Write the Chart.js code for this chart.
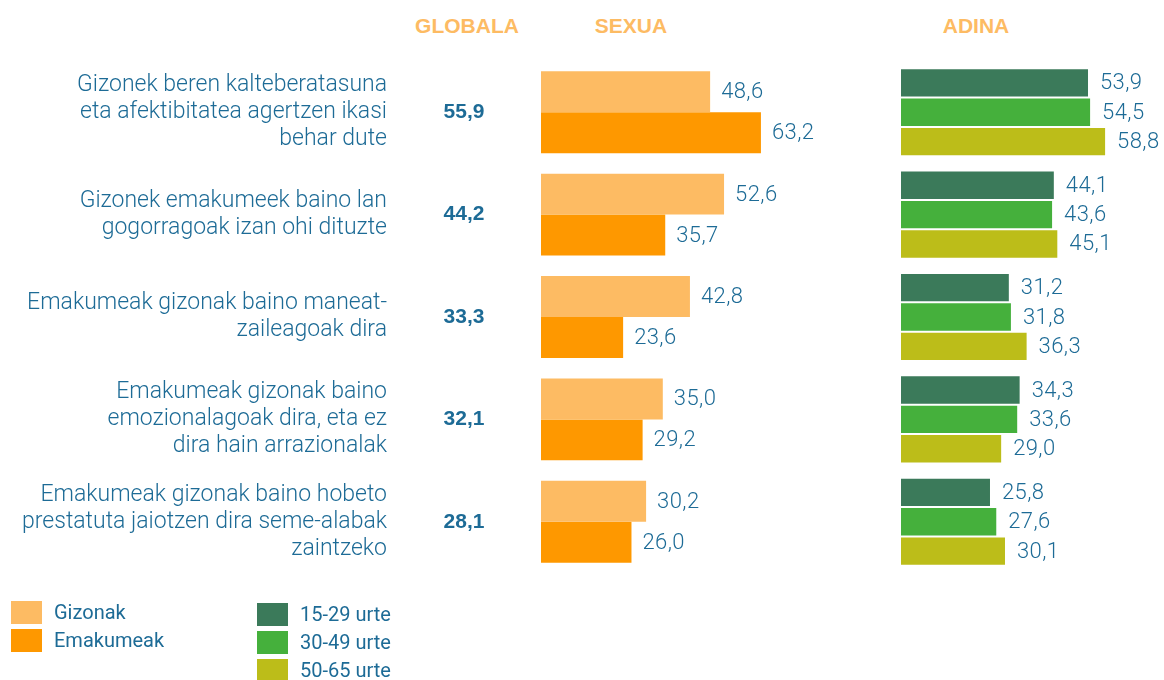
<!DOCTYPE html>
<html>
<head>
<meta charset="utf-8">
<script src="https://cdn.jsdelivr.net/npm/chart.js@4"></script>
<style>
  body { margin: 0; background: #fff; font-family: Roboto, sans-serif; }
  #wrap { position: relative; width: 1164px; height: 680px; overflow: hidden; }
  canvas { position: absolute; top: 0; }
  .head { position: absolute; top: 14px; font-family: "Liberation Sans", Arial, sans-serif; font-weight: 700; font-size: 21px; color: #fdbb63; transform: translateX(-50%); }
  .legend { position: absolute; font-size: 20px; color: #1d6b96; }
  .legend div { display: flex; align-items: center; height: 28px; }
  .legend span.sw { width: 31px; height: 23px; margin-right: 12px; }
</style>
</head>
<body>
<div id="wrap">
  <div class="head" style="left:467px">GLOBALA</div>
  <div class="head" style="left:631px">SEXUA</div>
  <div class="head" style="left:976px">ADINA</div>
  <canvas id="chartSexua" width="889" height="680" style="left:0"></canvas>
  <canvas id="chartAdina" width="274" height="680" style="left:890px"></canvas>
  <div class="legend" id="legendSexua" style="left:11px;top:598px"></div>
  <div class="legend" id="legendAdina" style="left:257px;top:600px"></div>
</div>
<script>
/* ── Data ───────────────────────────────────────────── */
const categories = [
  ['Gizonek beren kalteberatasuna', 'eta afektibitatea agertzen ikasi', 'behar dute'],
  ['Gizonek emakumeek baino lan', 'gogorragoak izan ohi dituzte'],
  ['Emakumeak gizonak baino maneat-', 'zaileagoak dira'],
  ['Emakumeak gizonak baino', 'emozionalagoak dira, eta ez', 'dira hain arrazionalak'],
  ['Emakumeak gizonak baino hobeto', 'prestatuta jaiotzen dira seme-alabak', 'zaintzeko']
];
const globala   = [55.9, 44.2, 33.3, 32.1, 28.1];
const gizonak   = [48.6, 52.6, 42.8, 35.0, 30.2];
const emakumeak = [63.2, 35.7, 23.6, 29.2, 26.0];
const age15_29  = [53.9, 44.1, 31.2, 34.3, 25.8];
const age30_49  = [54.5, 43.6, 31.8, 33.6, 27.6];
const age50_65  = [58.8, 45.1, 36.3, 29.0, 30.1];

const sexLabels = ['Gizonak', 'Emakumeak'];
const ageLabels = ['15-29 urte', '30-49 urte', '50-65 urte'];
const sexColors = ['#fdbb63', '#fe9800'];
const ageColors = ['#3b7a5a', '#45b03c', '#bcbd19'];

const TEXT = '#1d6b96';
const fmt = v => v.toFixed(1).replace('.', ',');

/* ── Plugins ───────────────────────────────────────── */
const valueLabels = {
  id: 'valueLabels',
  afterDatasetsDraw(chart) {
    const ctx = chart.ctx;
    ctx.save();
    ctx.font = '300 22px Roboto';
    ctx.letterSpacing = '0.4px';
    ctx.fillStyle = TEXT;
    ctx.textBaseline = 'middle';
    ctx.textAlign = 'left';
    chart.data.datasets.forEach((ds, di) => {
      chart.getDatasetMeta(di).data.forEach((bar, i) => {
        ctx.fillText(fmt(ds.data[i]), bar.x + 11, bar.y + 1);
      });
    });
    ctx.restore();
  }
};

// category text + GLOBALA column, placed on the y scale of the SEXUA chart
const sideText = {
  id: 'sideText',
  afterDraw(chart) {
    const ctx = chart.ctx;
    const y = chart.scales.y;
    const lh = 27;
    ctx.save();
    ctx.fillStyle = TEXT;
    ctx.textBaseline = 'middle';
    categories.forEach((lines, i) => {
      const cy = y.getPixelForValue(i);
      ctx.font = '300 23px Roboto';
      ctx.textAlign = 'right';
      lines.forEach((ln, j) => {
        ctx.fillText(ln, 387, cy + (j - (lines.length - 1) / 2) * lh);
      });
      ctx.font = '700 21px "Liberation Sans"';
      ctx.textAlign = 'center';
      ctx.fillText(fmt(globala[i]), 464, cy);
    });
    ctx.restore();
  }
};

function baseOptions(padLeft, max, catPct) {
  return {
    indexAxis: 'y',
    responsive: false,
    animation: false,
    layout: { padding: { left: padLeft, right: 0, top: 61, bottom: 107 } },
    datasets: { bar: { categoryPercentage: catPct, barPercentage: 1 } },
    plugins: { legend: { display: false }, tooltip: { enabled: false } },
    scales: {
      x: { display: false, min: 0, max: max },
      y: { display: false }
    }
  };
}

const idx = categories.map((c, i) => i);

new Chart(document.getElementById('chartSexua'), {
  type: 'bar',
  data: {
    labels: idx,
    datasets: [
      { label: sexLabels[0], data: gizonak, backgroundColor: sexColors[0], borderWidth: 0 },
      { label: sexLabels[1], data: emakumeak, backgroundColor: sexColors[1], borderWidth: 0 }
    ]
  },
  options: baseOptions(541, 100, 0.8),
  plugins: [valueLabels, sideText]
});

new Chart(document.getElementById('chartAdina'), {
  type: 'bar',
  data: {
    labels: idx,
    datasets: [age15_29, age30_49, age50_65].map((d, i) => ({
      label: ageLabels[i], data: d, backgroundColor: ageColors[i],
      borderColor: 'rgba(255,255,255,0.5)', borderWidth: 1
    }))
  },
  options: baseOptions(11, 75.4, 0.86),
  plugins: [valueLabels]
});

/* ── Legends ───────────────────────────────────────── */
function legend(el, labels, colors) {
  document.getElementById(el).innerHTML = labels.map((l, i) =>
    `<div><span class="sw" style="background:${colors[i]}"></span><span>${l}</span></div>`
  ).join('');
}
legend('legendSexua', sexLabels, sexColors);
legend('legendAdina', ageLabels, ageColors);
</script>
</body>
</html>
